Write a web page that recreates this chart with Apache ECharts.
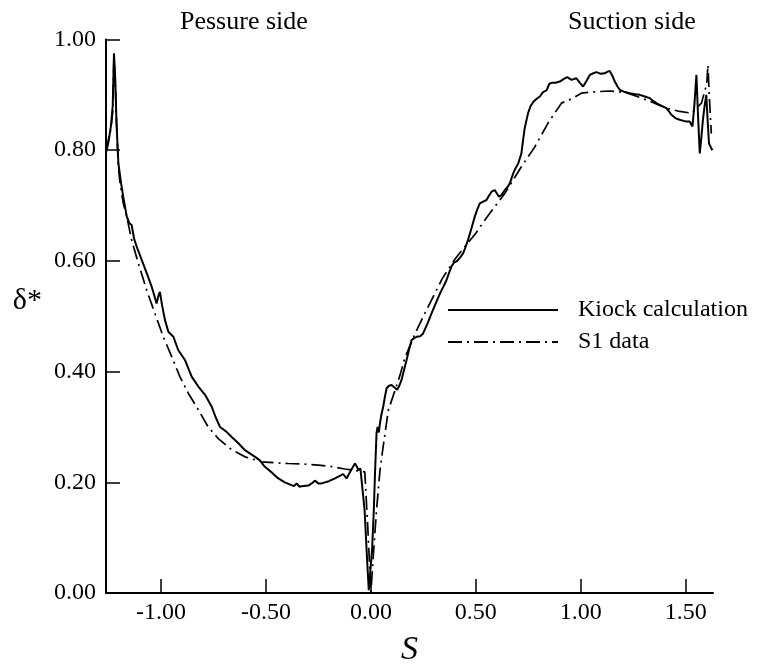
<!DOCTYPE html>
<html>
<head>
<meta charset="utf-8">
<script src="https://cdn.jsdelivr.net/npm/echarts@6/dist/echarts.min.js"></script>
<style>
html,body{margin:0;padding:0;background:#fff;}
#chart{width:758px;height:667px;}
</style>
</head>
<body>
<div id="chart"></div>
<script>
// ---- Data ----
var xTickValues = [-1.0, -0.5, 0.0, 0.5, 1.0, 1.5];
var sideLabels = ['Pessure side', 'Suction side'];
var seriesNames = ['Kiock calculation', 'S1 data'];

var kiockS = [-1.262,-1.250,-1.238,-1.230,-1.224,-1.218,-1.212,-1.203,-1.190,-1.180,-1.163,-1.150,-1.140,-1.128,-1.116,-1.092,-1.068,-1.044,-1.030,-1.021,-1.010,-1.005,-0.995,-0.981,-0.965,-0.941,-0.918,-0.886,-0.854,-0.822,-0.790,-0.759,-0.740,-0.719,-0.690,-0.663,-0.630,-0.600,-0.552,-0.530,-0.505,-0.470,-0.441,-0.410,-0.378,-0.366,-0.354,-0.340,-0.330,-0.298,-0.282,-0.267,-0.250,-0.235,-0.200,-0.171,-0.150,-0.132,-0.116,-0.100,-0.085,-0.076,-0.066,-0.060,-0.050,-0.044,-0.030,-0.018,-0.010,-0.002,0.006,0.014,0.020,0.027,0.032,0.038,0.043,0.050,0.059,0.067,0.075,0.085,0.098,0.110,0.125,0.135,0.146,0.158,0.170,0.182,0.194,0.205,0.218,0.235,0.249,0.270,0.289,0.310,0.329,0.345,0.360,0.372,0.384,0.396,0.408,0.425,0.440,0.452,0.463,0.480,0.495,0.507,0.519,0.535,0.551,0.563,0.575,0.590,0.599,0.610,0.622,0.638,0.650,0.662,0.678,0.690,0.702,0.717,0.725,0.733,0.749,0.760,0.773,0.790,0.805,0.820,0.837,0.850,0.865,0.880,0.900,0.920,0.935,0.956,0.979,0.995,1.011,1.027,1.043,1.060,1.075,1.095,1.114,1.128,1.138,1.150,1.162,1.175,1.186,1.210,1.233,1.260,1.281,1.305,1.329,1.345,1.360,1.385,1.408,1.420,1.432,1.450,1.471,1.490,1.503,1.519,1.532,1.541,1.551,1.559,1.567,1.575,1.582,1.590,1.598,1.605,1.611,1.620,1.627];
var kiockDelta = [0.795,0.815,0.845,0.880,0.975,0.930,0.850,0.776,0.740,0.716,0.680,0.668,0.665,0.640,0.626,0.602,0.578,0.553,0.535,0.523,0.540,0.544,0.520,0.493,0.472,0.463,0.439,0.421,0.391,0.373,0.358,0.337,0.318,0.300,0.292,0.282,0.270,0.258,0.246,0.240,0.228,0.217,0.207,0.200,0.195,0.193,0.198,0.192,0.193,0.194,0.198,0.203,0.198,0.198,0.202,0.207,0.211,0.215,0.207,0.218,0.228,0.234,0.228,0.222,0.225,0.225,0.150,0.060,0.005,0.002,0.080,0.150,0.220,0.289,0.300,0.290,0.306,0.322,0.337,0.355,0.370,0.374,0.376,0.372,0.367,0.374,0.385,0.403,0.421,0.440,0.457,0.460,0.463,0.464,0.469,0.487,0.505,0.524,0.541,0.553,0.565,0.578,0.590,0.597,0.599,0.606,0.614,0.626,0.638,0.660,0.680,0.693,0.704,0.707,0.710,0.718,0.725,0.728,0.725,0.716,0.719,0.728,0.733,0.740,0.758,0.768,0.776,0.794,0.818,0.840,0.867,0.879,0.887,0.893,0.897,0.905,0.908,0.920,0.922,0.922,0.924,0.929,0.932,0.927,0.930,0.922,0.915,0.925,0.936,0.939,0.941,0.938,0.939,0.942,0.943,0.935,0.924,0.915,0.909,0.905,0.903,0.901,0.900,0.897,0.894,0.889,0.885,0.880,0.876,0.870,0.864,0.858,0.855,0.853,0.852,0.852,0.843,0.880,0.936,0.860,0.794,0.825,0.855,0.880,0.900,0.850,0.812,0.805,0.800];

var s1S = [-1.262,-1.250,-1.238,-1.230,-1.224,-1.218,-1.210,-1.203,-1.195,-1.180,-1.163,-1.140,-1.108,-1.068,-1.029,-0.989,-0.949,-0.910,-0.870,-0.822,-0.775,-0.727,-0.671,-0.600,-0.521,-0.450,-0.394,-0.320,-0.251,-0.180,-0.124,-0.070,-0.029,-0.015,0.000,0.012,0.027,0.043,0.055,0.070,0.083,0.114,0.140,0.162,0.210,0.250,0.290,0.340,0.400,0.448,0.500,0.543,0.638,0.717,0.781,0.844,0.908,0.963,1.003,1.043,1.138,1.217,1.313,1.408,1.471,1.527,1.575,1.600,1.606,1.612,1.622];
var s1Delta = [0.800,0.820,0.840,0.870,0.970,0.920,0.830,0.770,0.740,0.705,0.680,0.638,0.596,0.547,0.505,0.463,0.427,0.391,0.361,0.331,0.300,0.279,0.261,0.246,0.237,0.235,0.234,0.233,0.231,0.228,0.224,0.221,0.219,0.120,0.001,0.070,0.150,0.220,0.255,0.295,0.330,0.365,0.395,0.425,0.468,0.500,0.530,0.568,0.603,0.626,0.650,0.674,0.722,0.770,0.806,0.849,0.885,0.894,0.903,0.905,0.907,0.904,0.891,0.876,0.870,0.867,0.885,0.920,0.954,0.900,0.830];

function pairs(xs, ys) { return xs.map(function (x, i) { return [x, ys[i]]; }); }

var FONT = 'Liberation Serif';
var chart = echarts.init(document.getElementById('chart'), null, { renderer: 'canvas' });
chart.setOption({
  backgroundColor: '#ffffff',
  animation: false,
  textStyle: { fontFamily: FONT, color: '#000' },
  title: [
    { text: sideLabels[0], left: 180, top: 9, padding: 0,
      textStyle: { fontFamily: FONT, fontSize: 26, fontWeight: 'normal', color: '#000' } },
    { text: sideLabels[1], left: 568, top: 9, padding: 0,
      textStyle: { fontFamily: FONT, fontSize: 26, fontWeight: 'normal', color: '#000' } }
  ],
  legend: {
    orient: 'vertical',
    left: 447,
    top: 298,
    itemWidth: 110,
    itemHeight: 14,
    itemGap: 8,
    padding: 0,
    data: seriesNames,
    itemStyle: { opacity: 0, color: 'rgba(0,0,0,0)', borderWidth: 0 },
    textStyle: { fontFamily: FONT, fontSize: 24, color: '#000', padding: [0, 0, 0, 15] }
  },
  grid: { left: 106, right: 45, top: 39.5, bottom: 74, containLabel: false, outerBoundsMode: 'none' },
  xAxis: {
    type: 'value',
    min: -1.262,
    max: 1.63,
    name: 'S',
    nameLocation: 'middle',
    nameGap: 40,
    nameTextStyle: { fontFamily: FONT, fontSize: 34, fontStyle: 'italic', color: '#000' },
    axisLine: { onZero: false, lineStyle: { color: '#000', width: 2 } },
    axisTick: { show: true, inside: true, length: 14, customValues: xTickValues, lineStyle: { color: '#000', width: 1.5 } },
    axisLabel: { customValues: xTickValues, fontFamily: FONT, fontSize: 24, color: '#000', margin: 8,
      formatter: function (v) { return v.toFixed(2); } },
    splitLine: { show: false }
  },
  yAxis: {
    type: 'value',
    min: 0,
    max: 1,
    interval: 0.2,
    name: 'δ*',
    nameLocation: 'middle',
    nameRotate: 0,
    nameGap: 64,
    nameTextStyle: { fontFamily: FONT, fontSize: 30, color: '#000', verticalAlign: 'bottom' },
    axisLine: { show: true, onZero: false, lineStyle: { color: '#000', width: 2 } },
    axisTick: { show: true, inside: true, length: 14, lineStyle: { color: '#000', width: 1.5 } },
    axisLabel: { fontFamily: FONT, fontSize: 24, color: '#000', margin: 10,
      formatter: function (v) { return v.toFixed(2); } },
    splitLine: { show: false }
  },
  series: [
    {
      name: seriesNames[0],
      type: 'line',
      data: pairs(kiockS, kiockDelta),
      symbol: 'none',
      smooth: false,
      lineStyle: { color: '#000', width: 2 },
      itemStyle: { color: '#000' },
      z: 3
    },
    {
      name: seriesNames[1],
      type: 'line',
      data: pairs(s1S, s1Delta),
      symbol: 'none',
      smooth: false,
      lineStyle: { color: '#000', width: 1.7, type: [14, 5, 2, 5] },
      itemStyle: { color: '#000' },
      z: 2
    }
  ]
});
</script>
</body>
</html>
